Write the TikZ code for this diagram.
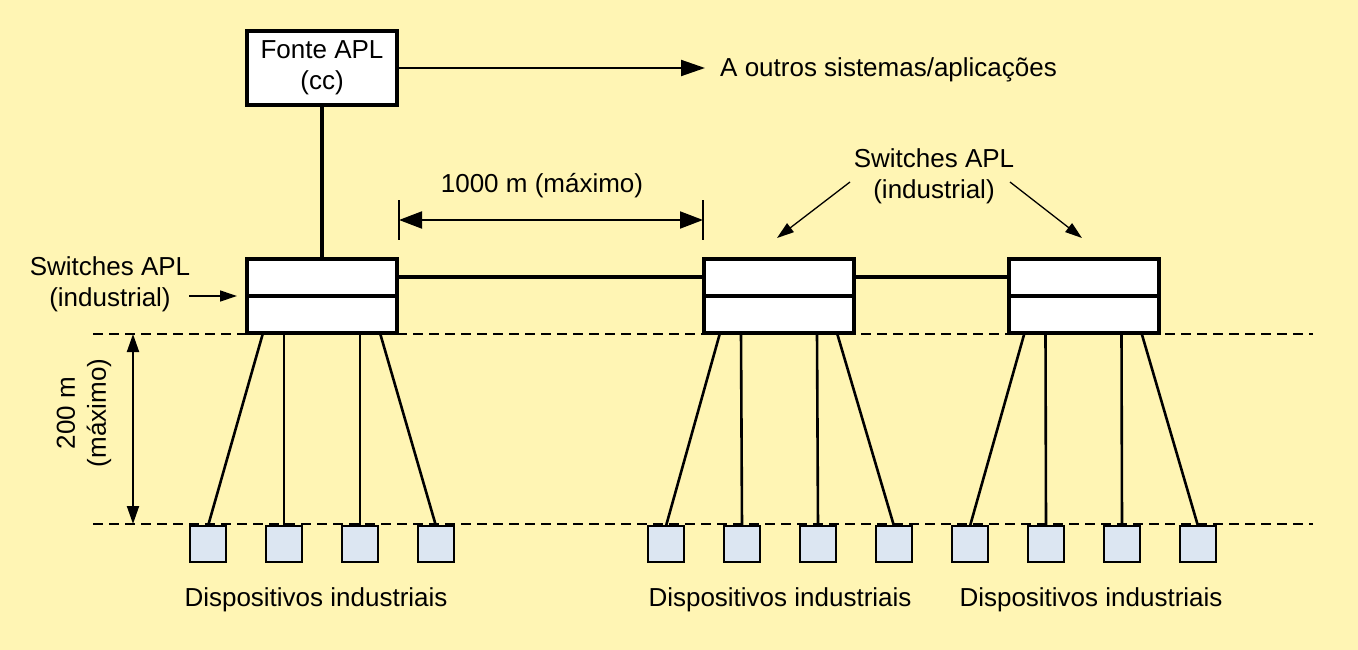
\documentclass[tikz,border=0pt]{standalone}
\usepackage{fontspec}
\setmainfont{Liberation Sans}
\usetikzlibrary{arrows.meta,calc}
\definecolor{bg}{RGB}{255,245,180}
\definecolor{dev}{RGB}{220,230,242}
\begin{document}
\begin{tikzpicture}[x=1pt,y=-1pt,
  every node/.style={font=\fontsize{26}{31}\selectfont, inner sep=0pt, align=center},
  boxnode/.style={draw, line width=4pt, fill=white, outer sep=0pt, minimum width=150pt, minimum height=74pt},
  devnode/.style={draw, line width=2.3pt, fill=dev, outer sep=0pt, minimum width=36pt, minimum height=36pt},
  thickline/.style={line width=4pt},
  devline/.style={line width=2.6pt},
  guide/.style={line width=1.5pt, dash pattern=on 10pt off 6pt},
  dimarrow/.style={line width=2pt, {Triangle[length=23pt,width=17pt]}-{Triangle[length=23pt,width=17pt]}},
  vdimarrow/.style={line width=2pt, {Triangle[length=18pt,width=12pt]}-{Triangle[length=18pt,width=12pt]}},
  tick/.style={line width=1.3pt},
  bigarrow/.style={line width=2pt, -{Triangle[length=24pt,width=16pt]}},
  notearrow/.style={line width=1.3pt, -{Triangle[length=17pt,width=11pt]}}
]
\fill[bg] (0,0) rectangle (1358,650);
\useasboundingbox (0,0) rectangle (1358,650);

% guide lines
\coordinate (g1l) at (93,334);
\coordinate (g1r) at (1313,334);
\coordinate (g2l) at (93,524);
\coordinate (g2r) at (1313,524);
\draw[guide] (g1l) -- (g1r);
\draw[guide] (g2l) -- (g2r);

% source
\node[boxnode] (src) at (322,68) {Fonte APL\\(cc)};
\coordinate (oend) at (705,68);
\node[anchor=west] (oth) at (720,70) {A outros sistemas/aplicações};
\draw[bigarrow] (src.east) -- (oend);

% switches
\node[boxnode] (s1) at (322,296) {};
\node[boxnode] (s2) at (779,296) {};
\node[boxnode] (s3) at (1083.5,296) {};
\foreach \s in {s1,s2,s3}{
  \draw[thickline] (\s.west) -- (\s.east);
}
\draw[thickline] (src.south) -- (s1.north);
\draw[thickline] ([yshift=19pt]s1.east) -- ([yshift=19pt]s2.west);
\draw[thickline] ([yshift=19pt]s2.east) -- ([yshift=19pt]s3.west);

% 1000 m dimension
\coordinate (dl) at (399,220);
\coordinate (dr) at (703,220);
\draw[tick] ([yshift=20pt]dl) -- ([yshift=-20pt]dl);
\draw[tick] ([yshift=20pt]dr) -- ([yshift=-20pt]dr);
\draw[dimarrow] (dl) -- (dr);
\node (dimtxt) at (542,186) {1000 m (máximo)};

% 200 m dimension
\coordinate (vt) at (133,334);
\coordinate (vb) at (133,524);
\draw[vdimarrow] (vt) -- (vb);
\node[rotate=90] (vtxt) at (84,413) {200 m\\(máximo)};

% labels for switches
\node (lbl1) at (110,284) {Switches APL\\(industrial)};
\coordinate (lbl1s) at (189,296);
\draw[notearrow] (lbl1s) -- ([xshift=-10pt]s1.west);
\node (lbl2) at (934,176) {Switches APL\\(industrial)};
\coordinate (a1s) at (850,182);
\coordinate (a1e) at (777,238);
\coordinate (a2s) at (1010,182);
\coordinate (a2e) at (1082,238);
\draw[notearrow] (a1s) -- (a1e);
\draw[notearrow] (a2s) -- (a2e);

% devices
\foreach \g/\sx/\tx in {1/245/316, 2/703/780, 3/1007/1091}{
  \foreach \i/\dx/\lx in {1/-37/16, 2/39/37, 3/115/113, 4/191/133}{
    \node[devnode] (d\g\i) at ({\sx+\dx},544) {};
    \draw[devline] ([xshift=\lx pt]s\g.south west) -- (d\g\i.north);
  }
  \node (lab\g) at (\tx,600) {Dispositivos industriais};
}
\end{tikzpicture}
\end{document}
